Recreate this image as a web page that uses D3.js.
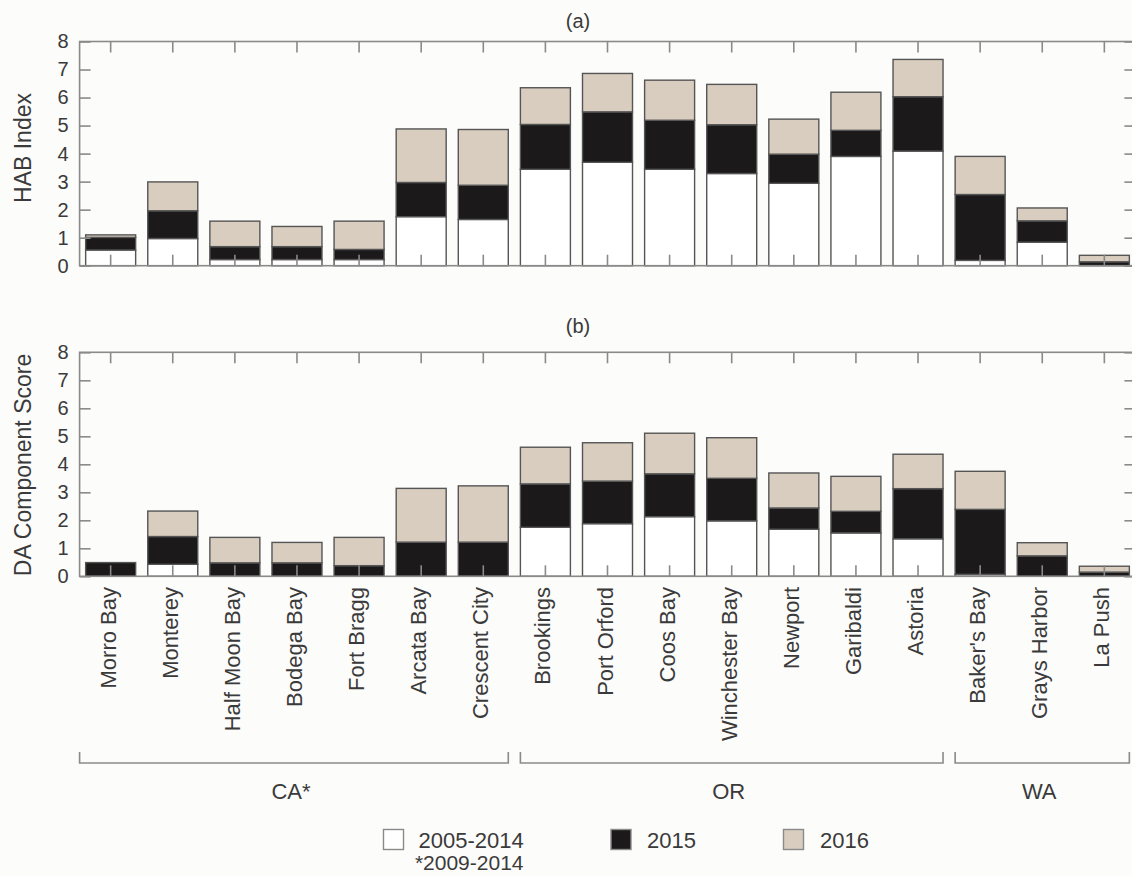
<!DOCTYPE html>
<html>
<head>
<meta charset="utf-8">
<script src="https://cdn.jsdelivr.net/npm/d3@7"></script>
<style>
  html, body { margin: 0; padding: 0; background: #fcfcfa; }
  svg { display: block; }
  text { font-family: "Liberation Sans", Arial, sans-serif; fill: #3a3a3a; }
</style>
</head>
<body>
<svg id="chart" width="1132" height="876"></svg>
<script>
// Sites, north-south along the coast, grouped by state
const sites = ["Morro Bay", "Monterey", "Half Moon Bay", "Bodega Bay", "Fort Bragg",
  "Arcata Bay", "Crescent City", "Brookings", "Port Orford", "Coos Bay",
  "Winchester Bay", "Newport", "Garibaldi", "Astoria", "Baker's Bay",
  "Grays Harbor", "La Push"];

const periods = ["2005-2014", "2015", "2016"];

// (a) HAB Index contributions per period
const habBase = [0.56, 0.97, 0.22, 0.22, 0.22, 1.75, 1.65, 3.44, 3.69, 3.44, 3.29, 2.94, 3.90, 4.09, 0.19, 0.84, 0.00];
const hab2015 = [0.45, 0.99, 0.46, 0.46, 0.36, 1.22, 1.22, 1.60, 1.80, 1.75, 1.74, 1.04, 0.93, 1.94, 2.35, 0.76, 0.14];
const hab2016 = [0.09, 1.03, 0.91, 0.72, 1.01, 1.91, 1.99, 1.31, 1.37, 1.43, 1.44, 1.25, 1.36, 1.33, 1.36, 0.46, 0.23];

// (b) DA component score contributions per period
const daBase = [0.00, 0.43, 0.00, 0.00, 0.00, 0.00, 0.00, 1.75, 1.88, 2.13, 1.98, 1.68, 1.55, 1.34, 0.07, 0.00, 0.00];
const da2015 = [0.49, 0.99, 0.48, 0.48, 0.38, 1.22, 1.22, 1.55, 1.52, 1.53, 1.52, 0.76, 0.77, 1.79, 2.32, 0.73, 0.15];
const da2016 = [0.00, 0.91, 0.91, 0.73, 1.01, 1.92, 2.01, 1.31, 1.37, 1.45, 1.45, 1.25, 1.25, 1.23, 1.36, 0.47, 0.21];

const yTicks = [0, 1, 2, 3, 4, 5, 6, 7, 8];

// State groups (first and last site of each)
const states = [
  { name: "CA*", first: "Morro Bay", last: "Crescent City" },
  { name: "OR", first: "Brookings", last: "Astoria" },
  { name: "WA", first: "Baker's Bay", last: "La Push" }
];

const colors = { "2005-2014": "#ffffff", "2015": "#1b1919", "2016": "#d8cdbf" };
const barStroke = "#555555";
const axisColor = "#8a8a8a";

const svg = d3.select("#chart");

const x = d3.scaleBand()
  .domain(sites)
  .range([79.6, 1135.4])
  .paddingInner(0.195)
  .paddingOuter(0.0975);

function panel(opts) {
  const { top, bottom, series, title, yLabel, titleY } = opts;
  const y = d3.scaleLinear().domain([0, 8]).range([bottom, top]);
  const g = svg.append("g");
  const [x0, x1] = x.range();

  // stacked bars
  const rows = sites.map((s, i) => ({ site: s, "2005-2014": series[0][i], "2015": series[1][i], "2016": series[2][i] }));
  const stacked = d3.stack().keys(periods)(rows);
  stacked.forEach(layer => {
    g.append("g")
      .selectAll("rect")
      .data(layer.filter(d => d[1] - d[0] > 0))
      .join("rect")
      .attr("x", d => x(d.data.site))
      .attr("width", x.bandwidth())
      .attr("y", d => y(d[1]))
      .attr("height", d => y(d[0]) - y(d[1]))
      .attr("fill", colors[layer.key])
      .attr("stroke", barStroke)
      .attr("stroke-width", 1.4);
  });

  // frame
  g.append("rect")
    .attr("x", x0).attr("y", top)
    .attr("width", x1 - x0).attr("height", bottom - top)
    .attr("fill", "none").attr("stroke", axisColor).attr("stroke-width", 1.6);

  const tickLen = 11;
  const styleAxis = sel => {
    sel.select(".domain").remove();
    sel.selectAll(".tick line").attr("stroke", axisColor).attr("stroke-width", 1.6);
  };

  // left axis with labels
  g.append("g")
    .attr("transform", `translate(${x0},0)`)
    .call(d3.axisLeft(y).tickValues(yTicks).tickSize(-tickLen).tickPadding(11).tickFormat(d3.format("d")))
    .call(styleAxis)
    .call(s => s.selectAll(".tick text")
      .attr("font-size", 20)
      .attr("fill", "#3a3a3a")
      .style("font-family", '"Liberation Sans", Arial, sans-serif'));

  // right axis, inward ticks only
  g.append("g")
    .attr("transform", `translate(${x1},0)`)
    .call(d3.axisRight(y).tickValues(yTicks).tickSize(-tickLen).tickFormat(""))
    .call(styleAxis);

  // top and bottom category ticks, inward
  g.append("g")
    .attr("transform", `translate(0,${top})`)
    .call(d3.axisTop(x).tickSize(-tickLen).tickFormat(""))
    .call(styleAxis);
  g.append("g")
    .attr("transform", `translate(0,${bottom})`)
    .call(d3.axisBottom(x).tickSize(-tickLen).tickFormat(""))
    .call(styleAxis);

  // panel title
  g.append("text")
    .attr("x", 578).attr("y", titleY)
    .attr("text-anchor", "middle")
    .attr("font-size", 20)
    .text(title);

  // y axis title
  g.append("text")
    .attr("transform", `translate(31,${opts.yLabelCenter}) rotate(-90)`)
    .attr("text-anchor", "middle")
    .attr("font-size", 23)
    .text(yLabel);

  return y;
}

panel({ top: 41.5, bottom: 265.7, series: [habBase, hab2015, hab2016],
  title: "(a)", titleY: 28, yLabel: "HAB Index", yLabelCenter: 148 });
panel({ top: 352.3, bottom: 576.3, series: [daBase, da2015, da2016],
  title: "(b)", titleY: 333, yLabel: "DA Component Score", yLabelCenter: 465 });

// rotated site labels under panel (b)
svg.append("g")
  .selectAll("text")
  .data(sites)
  .join("text")
  .attr("transform", d => `translate(${x(d) + x.bandwidth() / 2 + 5},587) rotate(-90)`)
  .attr("text-anchor", "end")
  .attr("font-size", 22)
  .text(d => d);

// state brackets
const bracketY = 763, bracketTick = 11;
states.forEach((st, i) => {
  const left = i === 0 ? x.range()[0] : x(st.first);
  const right = x(st.last) + x.bandwidth();
  svg.append("path")
    .attr("d", `M${left},${bracketY - bracketTick}V${bracketY}H${right}V${bracketY - bracketTick}`)
    .attr("fill", "none")
    .attr("stroke", axisColor)
    .attr("stroke-width", 1.6);
  svg.append("text")
    .attr("x", (left + right) / 2 - 3)
    .attr("y", 799)
    .attr("text-anchor", "middle")
    .attr("font-size", 22)
    .text(st.name);
});

// legend
const legendItems = [
  { key: "2005-2014", boxX: 383.5, textX: 418.5 },
  { key: "2015", boxX: 611, textX: 647 },
  { key: "2016", boxX: 783.5, textX: 820 }
];
const legend = svg.append("g");
legendItems.forEach(it => {
  legend.append("rect")
    .attr("x", it.boxX).attr("y", 829.5)
    .attr("width", 20).attr("height", 20)
    .attr("fill", colors[it.key])
    .attr("stroke", axisColor).attr("stroke-width", 1.4);
  legend.append("text")
    .attr("x", it.textX).attr("y", 848)
    .attr("font-size", 22)
    .text(it.key);
});
legend.append("text")
  .attr("x", 523.5).attr("y", 870)
  .attr("text-anchor", "end")
  .attr("font-size", 21)
  .text("*2009-2014");
</script>
</body>
</html>
